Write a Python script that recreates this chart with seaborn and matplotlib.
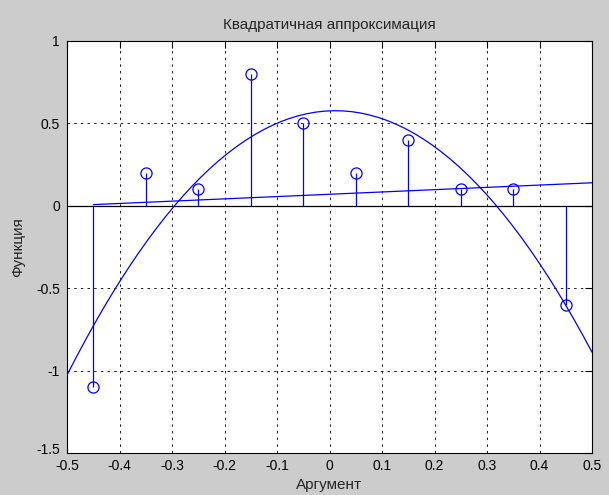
import numpy as np
import pandas as pd
import matplotlib
matplotlib.use("Agg")
import matplotlib.pyplot as plt
import matplotlib.transforms as mtransforms
import seaborn as sns

# data
x_pts = [-0.45, -0.35, -0.25, -0.15, -0.05, 0.05, 0.15, 0.25, 0.35, 0.45]
y_pts = [-1.1, 0.2, 0.1, 0.8, 0.5, 0.2, 0.4, 0.1, 0.1, -0.6]
x_ticks = [-0.5, -0.4, -0.3, -0.2, -0.1, 0, 0.1, 0.2, 0.3, 0.4, 0.5]
x_tick_labels = ["-0.5", "-0.4", "-0.3", "-0.2", "-0.1", "0", "0.1", "0.2", "0.3", "0.4", "0.5"]
y_ticks = [-1.5, -1, -0.5, 0, 0.5, 1]
y_tick_labels = ["-1.5", "-1", "-0.5", "0", "0.5", "1"]

# least-squares fits of the stem data (linear and quadratic)
lin = np.polyfit(x_pts, y_pts, 1)
quad = np.polyfit(x_pts, y_pts, 2)
x_lin = np.linspace(-0.45, 0.5, 40)
x_quad = np.linspace(-0.5, 0.5, 60)
df_lin = pd.DataFrame({"x": x_lin, "y": np.polyval(lin, x_lin)})
df_quad = pd.DataFrame({"x": x_quad, "y": np.polyval(quad, x_quad)})

sns.set_style("white")
plt.rcParams["font.family"] = ["Liberation Sans", "DejaVu Sans"]

W, H = 609, 495
fig = plt.figure(figsize=(W / 100, H / 100), dpi=100, facecolor="#cccccc")
L, R, T, B = 67, 592, 41, 453
ax = fig.add_axes([L / W, 1 - B / H, (R - L) / W, (B - T) / H])
ax.set_facecolor("white")

ax.axhline(0, color="black", lw=0.9, zorder=2)
ax.vlines(x_pts, 0, y_pts, color="#0000ff", lw=0.9, zorder=3)
ax.plot(x_pts, y_pts, "o", mfc="none", mec="#0000ff", ms=8, mew=0.9, zorder=4)
sns.lineplot(data=df_lin, x="x", y="y", ax=ax, color="#0000ff", lw=0.9, zorder=3)
sns.lineplot(data=df_quad, x="x", y="y", ax=ax, color="#0000ff", lw=0.9, zorder=3)

ax.set_xlim(-0.5, 0.5)
ax.set_ylim(-1.5, 1)
ax.set_xticks(x_ticks)
ax.set_xticklabels(x_tick_labels)
ax.set_yticks(y_ticks)
ax.set_yticklabels(y_tick_labels)
ax.grid(True, color="black", linestyle=(0, (3, 5)), lw=0.6)
ax.tick_params(direction="in", length=5, width=0.8, top=True, right=True,
               labelsize=10, colors="black")
ax.tick_params(axis="x", pad=4)
ax.tick_params(axis="y", pad=5)
for s in ax.spines.values():
    s.set_visible(True)
    s.set_color("black")
    s.set_linewidth(0.8)

# lift the bottom y label a little, as in the reference
lab = ax.get_yticklabels()[0]
lab.set_transform(lab.get_transform() + mtransforms.ScaledTranslation(0, 4 / 100, fig.dpi_scale_trans))

ax.set_title("Квадратичная аппроксимация", fontsize=11, pad=9)
ax.set_xlabel("Аргумент", fontsize=11, labelpad=4)
ax.set_ylabel("Функция", fontsize=11, labelpad=8)

fig.savefig("out.png", dpi=100, facecolor=fig.get_facecolor())
